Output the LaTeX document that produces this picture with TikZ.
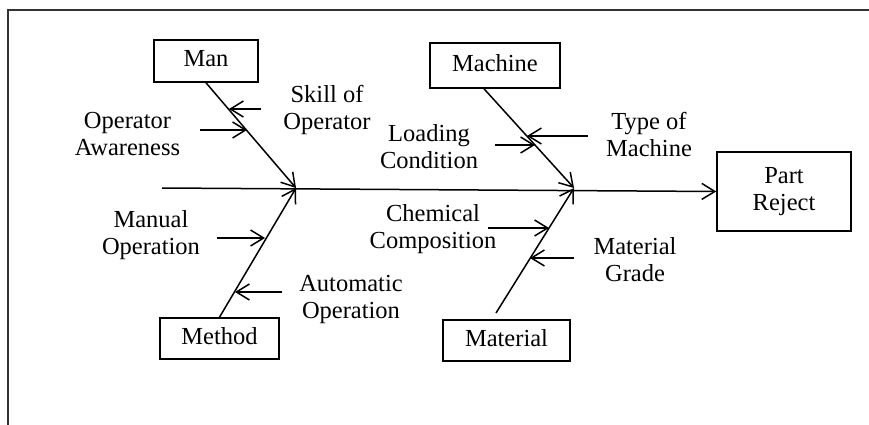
\documentclass[tikz,border=0pt]{standalone}
\usepackage{fontspec}
\setmainfont{Liberation Serif}
\usetikzlibrary{arrows.meta,calc}
\begin{document}
\begin{tikzpicture}[x=1pt,y=-1pt,
  box/.style={draw,line width=1.6pt,inner sep=0pt,font=\fontsize{24.5}{27}\selectfont,text height=17pt,text depth=5pt},
  bigbox/.style={draw,line width=1.6pt,inner sep=0pt,align=center,font=\fontsize{24.5}{27}\selectfont},
  lbl/.style={inner sep=0pt,align=center,font=\fontsize{24.5}{27}\selectfont},
  tip/.style={line width=1.5pt,-{Straight Barb[length=13pt,width=16pt,line width=1.5pt]}},
  frame/.style={line width=2pt,draw=black!80}]
\useasboundingbox (0,0) rectangle (869,425);
\draw[frame] (7.5,425) -- (7.5,10.5) -- (869,10.5);

% category boxes
\node[box,minimum width=104pt,minimum height=42pt] (man) at (206,61) {Man};
\node[box,minimum width=130pt,minimum height=45pt] (machine) at (495,65.5) {Machine};
\node[box,minimum width=119pt,minimum height=41pt] (method) at (219.5,338.5) {Method};
\node[box,minimum width=127pt,minimum height=41pt] (material) at (506.5,340.5) {Material};
\node[bigbox,minimum width=134pt,minimum height=79pt] (reject) at (784,191.5) {\raisebox{3pt}{\begin{tabular}{@{}c@{}}Part\\Reject\end{tabular}}};

% spine
\coordinate (tail) at (162,188);
\coordinate (j1) at (296,188);
\coordinate (j2) at (574,188);
\draw[tip] (tail) -- (reject.west);

% bones
\coordinate (mcb) at ($(machine.south)+(-11,0)$);
\coordinate (mtb) at (496,313);
\draw[tip] (man.south) -- (j1);
\draw[tip] (method.north) -- (j1);
\draw[tip] (mcb) -- (j2);
\draw[tip] (mtb) -- (j2);

% cause labels
\node[lbl] (skill) at (327,110) {Skill of\\Operator};
\node[lbl] (aware) at (127.5,134) {Operator\\Awareness};
\node[lbl] (loading) at (429,146.5) {Loading\\Condition};
\node[lbl] (type) at (649,134) {Type of\\Machine};
\node[lbl] (manual) at (151,235.5) {Manual\\Operation};
\node[lbl] (auto) at (351,299) {Automatic\\Operation};
\node[lbl] (chem) at (433,229.5) {Chemical\\Composition};
\node[lbl] (grade) at (635,260) {Material\\Grade};

% cause arrows
\coordinate (skillA) at (261,109);   \coordinate (skillB) at (229,109);
\coordinate (awareA) at (200,130);   \coordinate (awareB) at (247,130);
\coordinate (typeA) at (588,136);    \coordinate (typeB) at (527,136);
\coordinate (loadA) at (495,145);    \coordinate (loadB) at (535,145);
\coordinate (manA) at (217,238);     \coordinate (manB) at (265,238);
\coordinate (autoA) at (282,292);    \coordinate (autoB) at (235,292);
\coordinate (chemA) at (488,228);    \coordinate (chemB) at (549,228);
\coordinate (gradeA) at (574,258);   \coordinate (gradeB) at (530,258);
\draw[tip] (skillA) -- (skillB);
\draw[tip] (awareA) -- (awareB);
\draw[tip] (typeA) -- (typeB);
\draw[tip] (loadA) -- (loadB);
\draw[tip] (manA) -- (manB);
\draw[tip] (autoA) -- (autoB);
\draw[tip] (chemA) -- (chemB);
\draw[tip] (gradeA) -- (gradeB);
\end{tikzpicture}
\end{document}
